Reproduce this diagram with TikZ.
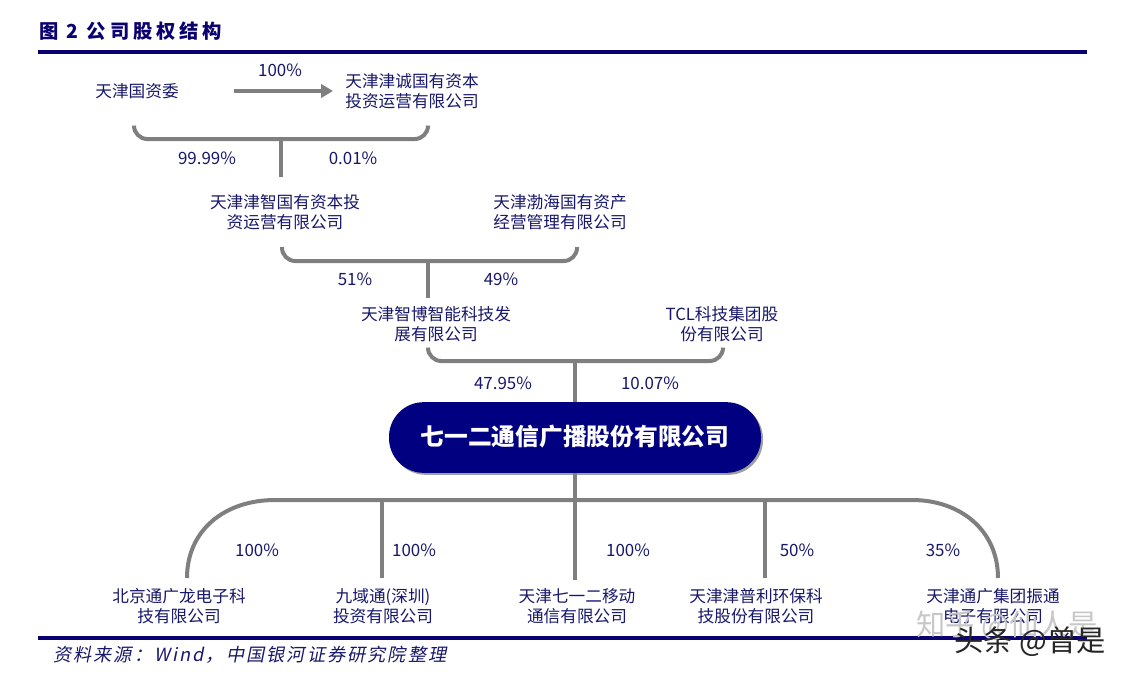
\documentclass[tikz,border=0pt]{standalone}
\usepackage{fontspec}
\setmainfont{Noto Sans CJK SC}
\newfontfamily\srcfont[FakeSlant=0.2,LetterSpace=11.5]{Noto Sans CJK SC}
\newfontfamily\titlefont[LetterSpace=20]{Noto Sans CJK SC}
\usetikzlibrary{arrows.meta,shadows}
\definecolor{navy}{HTML}{000080}
\definecolor{rulenavy}{HTML}{0A0070}
\definecolor{txtnavy}{HTML}{17176B}
\definecolor{linkgray}{HTML}{7F7F7F}
\tikzset{
  company/.style={align=center, text=txtnavy, font=\fontsize{12.5}{15}\selectfont, inner sep=0pt},
  pct/.style={text=txtnavy, font=\fontsize{12.7}{15}\selectfont, inner sep=0pt},
  link/.style={draw=linkgray, line width=3pt},
  topline/.style={draw=rulenavy, line width=2.6pt},
  mainbox/.style={fill=navy, text=white, rounded corners=26pt, minimum width=279pt, minimum height=53pt,
    inner sep=0pt, font=\fontsize{17.8}{20}\selectfont\bfseries, drop shadow={shadow xshift=1.5pt, shadow yshift=-1.5pt, fill=black!75}},
}
\begin{document}
\begin{tikzpicture}[x=0.75pt, y=-0.75pt]
  \useasboundingbox (0,0) rectangle (1125,674);

  % header and footer
  \node[anchor=west, inner sep=0pt, text=rulenavy, font=\titlefont\fontsize{14.5}{16}\selectfont\bfseries] (title) at (39,31) {图 2 公司股权结构};
  \coordinate (headl) at (38,52);
  \coordinate (headr) at (1087,52);
  \coordinate (footl) at (38,638);
  \coordinate (footr) at (1087,638);
  \draw[topline] (headl) -- (headr);
  \draw[topline] (footl) -- (footr);
  \node[anchor=west, inner sep=0pt, text=txtnavy, font=\srcfont\fontsize{13.6}{16}\selectfont] (source) at (53,655) {资料来源：Wind，中国银河证券研究院整理};

  % first level
  \node[company] (sasac) at (137,91) {天津国资委};
  \node[company] (jincheng) at (412,91) {天津津诚国有资本\\投资运营有限公司};
  \node[pct] (p100a) at (280,70) {100\%};
  \coordinate (arrowl) at (234,91);
  \coordinate (arrowr) at (333,91);
  \draw[draw=linkgray, line width=2.6pt, -{Triangle[length=9pt,width=10pt]}] (arrowl) -- (arrowr);

  \coordinate (bl1) at (134,127);
  \coordinate (br1) at (428,127);
  \coordinate (bm1) at (281,139);
  \coordinate (bs1) at (281,177);
  \draw[link, rounded corners=10pt] (bl1) -- (134,139) -- (428,139) -- (br1);
  \draw[link] (bm1) -- (bs1);
  \node[pct] (p9999) at (207,158) {99.99\%};
  \node[pct] (p001) at (353,158) {0.01\%};

  % second level
  \node[company] (jinzhi) at (285,212) {天津津智国有资本投\\资运营有限公司};
  \node[company] (bohai) at (560,212) {天津渤海国有资产\\经营管理有限公司};
  \coordinate (bl2) at (282,247);
  \coordinate (br2) at (577,247);
  \coordinate (bm2) at (428,261);
  \coordinate (bs2) at (428,298);
  \draw[link, rounded corners=10pt] (bl2) -- (282,261) -- (577,261) -- (br2);
  \draw[link] (bm2) -- (bs2);
  \node[pct] (p51) at (355,279) {51\%};
  \node[pct] (p49) at (501,279) {49\%};

  % third level
  \node[company] (zhibo) at (436,324) {天津智博智能科技发\\展有限公司};
  \node[company] (tcl) at (722,324) {TCL科技集团股\\份有限公司};
  \coordinate (bl3) at (428,349);
  \coordinate (br3) at (723,349);
  \coordinate (bm3) at (575,361);
  \draw[link, rounded corners=10pt] (bl3) -- (428,361) -- (723,361) -- (br3);
  \node[pct] (p4795) at (503,383) {47.95\%};
  \node[pct] (p1007) at (650,383) {10.07\%};

  \node[mainbox] (qyer) at (575,437.5) {\raisebox{3pt}{七一二通信广播股份有限公司}};
  \draw[link] (bm3) -- (qyer.north);

  % subsidiaries
  \coordinate (bus) at (575,500);
  \draw[link] (qyer.south) -- (bus);
  \coordinate (subl) at (187,578);
  \coordinate (subr) at (998,578);
  \draw[link] (subl) .. controls (187,530) and (225,500) .. (275,500) -- (912,500) .. controls (960,500) and (998,530) .. (subr);

  \node[company] (tongguang) at (179,606.5) {北京通广龙电子科\\技有限公司};
  \node[company] (jiuyu) at (383,606.5) {九域通(深圳)\\投资有限公司};
  \node[company] (mobile) at (577,606.5) {天津七一二移动\\通信有限公司};
  \node[company] (puli) at (756,606.5) {天津津普利环保科\\技股份有限公司};
  \node[company] (zhentong) at (993,606.5) {天津通广集团振通\\电子有限公司};

  \coordinate (t2) at (382,578);
  \coordinate (t3) at (575,580);
  \coordinate (t4) at (765,578);
  \coordinate (j2) at (382,500);
  \coordinate (j4) at (765,500);
  \draw[link] (j2) -- (t2);
  \draw[link] (bus) -- (t3);
  \draw[link] (j4) -- (t4);

  \node[pct] (pa) at (257,550) {100\%};
  \node[pct] (pb) at (414,550) {100\%};
  \node[pct] (pc) at (628,550) {100\%};
  \node[pct] (pd) at (797,550) {50\%};
  \node[pct] (pe) at (943,550) {35\%};

  % watermarks
  \node[inner sep=0pt, text=black!22, font=\fontsize{22}{24}\selectfont] (zhihu) at (1007,626) {知乎 @仙人是};
  \node[inner sep=0pt, text=black!85, font=\fontsize{22}{24}\selectfont] (toutiao) at (1030,642) {头条 @曾是};
\end{tikzpicture}
\end{document}
